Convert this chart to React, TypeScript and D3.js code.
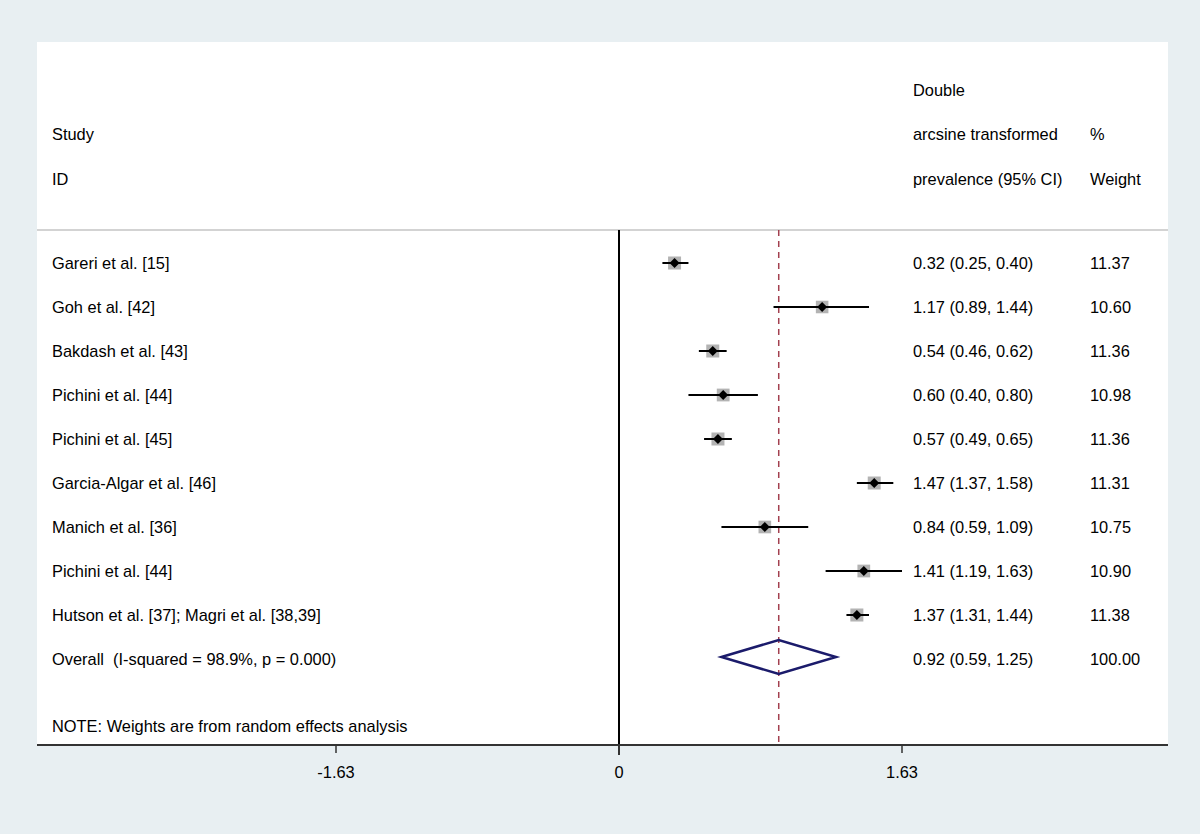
import * as d3 from 'd3'

// study rows
const studies = [
  'Gareri et al. [15]',
  'Goh et al. [42]',
  'Bakdash et al. [43]',
  'Pichini et al. [44]',
  'Pichini et al. [45]',
  'Garcia-Algar et al. [46]',
  'Manich et al. [36]',
  'Pichini et al. [44]',
  'Hutson et al. [37]; Magri et al. [38,39]'
]
const estimates = [0.32, 1.17, 0.54, 0.6, 0.57, 1.47, 0.84, 1.41, 1.37]
const lowers = [0.25, 0.89, 0.46, 0.4, 0.49, 1.37, 0.59, 1.19, 1.31]
const uppers = [0.4, 1.44, 0.62, 0.8, 0.65, 1.58, 1.09, 1.63, 1.44]
const weights = [11.37, 10.6, 11.36, 10.98, 11.36, 11.31, 10.75, 10.9, 11.38]

const overall = { label: 'Overall  (I-squared = 98.9%, p = 0.000)', est: 0.92, lo: 0.59, hi: 1.25, weight: 100 }

const xTicks = [-1.63, 0, 1.63]

const W = 1200
const H = 834
const panel = { left: 37, right: 1168, top: 42, bottom: 745 }
const headerLine = 230
const font = '"Liberation Sans", Arial, Helvetica, sans-serif'
const fontSize = 16.4

export default function App() {
  const x = d3.scaleLinear().domain([0, 1.63]).range([619, 902])
  const y = d3.scaleLinear().domain([0, 1]).range([263, 307])
  const boxSize = d3.scaleSqrt().domain([0, 11.37]).range([0, 13])

  const fmt = (v: number) => v.toFixed(2)

  const textProps = { fontFamily: font, fontSize, fill: '#000', style: { whiteSpace: 'pre' as const } }

  const rowTexts = (i: number, label: string, est: number, lo: number, hi: number, w: number) => (
    <g key={'t' + i}>
      <text {...textProps} x={52} y={y(i) + 6}>{label}</text>
      <text {...textProps} x={913} y={y(i) + 6}>{`${fmt(est)} (${fmt(lo)}, ${fmt(hi)})`}</text>
      <text {...textProps} x={1090} y={y(i) + 6}>{fmt(w)}</text>
    </g>
  )

  const oy = y(studies.length) - 2
  const diamond = [
    [x(overall.lo), oy],
    [x(overall.est), oy - 17],
    [x(overall.hi), oy],
    [x(overall.est), oy + 17]
  ]

  return (
    <div style={{ position: 'absolute', left: 0, top: 0 }}>
      <svg width={W} height={H}>
        <rect x={0} y={0} width={W} height={H} fill="#e8eff2" />
        <rect x={panel.left} y={panel.top} width={panel.right - panel.left} height={panel.bottom - panel.top} fill="#fff" />

        {/* header */}
        <text {...textProps} x={52} y={140}>Study</text>
        <text {...textProps} x={52} y={185}>ID</text>
        <text {...textProps} x={913} y={96}>Double</text>
        <text {...textProps} x={913} y={140}>arcsine transformed</text>
        <text {...textProps} x={913} y={185}>prevalence (95% CI)</text>
        <text {...textProps} x={1090} y={140}>%</text>
        <text {...textProps} x={1090} y={185}>Weight</text>
        <line x1={panel.left} x2={panel.right} y1={headerLine} y2={headerLine} stroke="#c4c4c4" strokeWidth={1.5} />

        {/* reference lines */}
        <line x1={x(0)} x2={x(0)} y1={headerLine} y2={panel.bottom} stroke="#000" strokeWidth={2} />
        <line x1={x(overall.est)} x2={x(overall.est)} y1={headerLine} y2={panel.bottom} stroke="#a3404f" strokeWidth={1.5} strokeDasharray="6,5" />

        {/* studies */}
        {studies.map((s, i) => {
          const cy = y(i)
          const bs = boxSize(weights[i])
          const cx = x(estimates[i])
          return (
            <g key={s + i}>
              <rect x={cx - bs / 2} y={cy - bs / 2} width={bs} height={bs} fill="#b3b3b3" />
              <line x1={x(lowers[i])} x2={x(uppers[i])} y1={cy} y2={cy} stroke="#000" strokeWidth={2} />
              <path d={`M${cx - 5},${cy}L${cx},${cy - 5}L${cx + 5},${cy}L${cx},${cy + 5}Z`} fill="#000" />
            </g>
          )
        })}
        {studies.map((s, i) => rowTexts(i, s, estimates[i], lowers[i], uppers[i], weights[i]))}

        {/* overall */}
        <path d={d3.line()(diamond as [number, number][]) + 'Z'} fill="none" stroke="#1b1b6b" strokeWidth={2.5} />
        {rowTexts(studies.length, overall.label, overall.est, overall.lo, overall.hi, overall.weight)}

        <text {...textProps} x={52} y={732}>NOTE: Weights are from random effects analysis</text>

        {/* axis */}
        <line x1={panel.left} x2={panel.right} y1={panel.bottom} y2={panel.bottom} stroke="#333" strokeWidth={2} />
        {xTicks.map(t => (
          <g key={t}>
            <line x1={x(t)} x2={x(t)} y1={panel.bottom} y2={panel.bottom + (t === 0 ? 10 : 8)} stroke="#333" strokeWidth={t === 0 ? 2 : 1.5} />
            <text {...textProps} x={x(t)} y={778} textAnchor="middle">{t === 0 ? '0' : t.toFixed(2)}</text>
          </g>
        ))}
      </svg>
    </div>
  )
}
